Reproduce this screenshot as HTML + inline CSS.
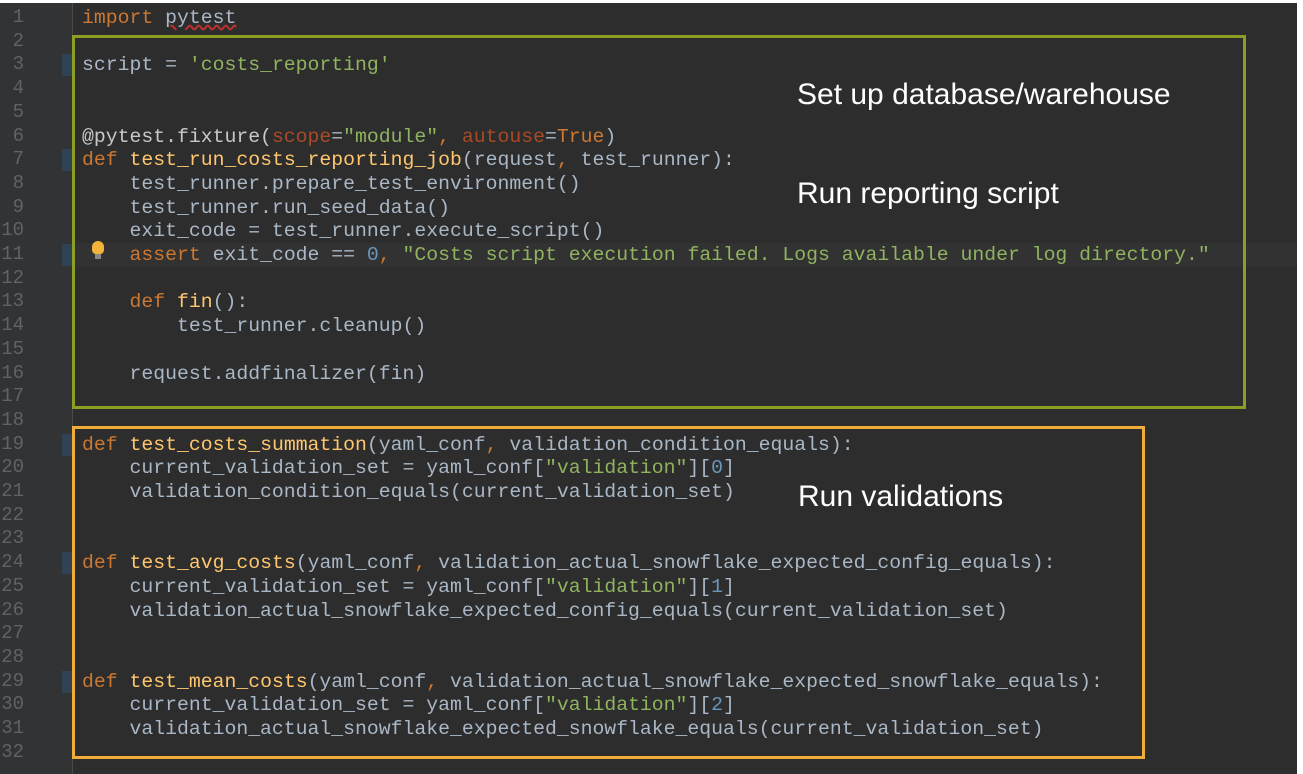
<!DOCTYPE html>
<html><head><meta charset="utf-8"><style>
html,body{margin:0;padding:0;width:1303px;height:774px;overflow:hidden;background:#fff}
#ed{position:absolute;left:0;top:3px;width:1297px;height:771px;background:#2d2d2d}
#gut{position:absolute;left:0;top:3px;width:72px;height:771px;background:#313335;border-right:1px solid #4a4a4a}
.ln{position:absolute;left:0;width:24px;text-align:right;font:19px "Liberation Mono",monospace;color:#606366}
.code{position:absolute;left:82px;white-space:pre;font:19.8px "Liberation Mono",monospace;color:#a9b7c6}
.k{color:#cc7832}.f{color:#ffc66d}.s{color:#8fb35f}.n{color:#6897bb}.p{color:#aa4926}.d{color:#c8c8c8}
.mk{position:absolute;left:62px;width:10px;height:22px;background:#2f4354}
.box{position:absolute;box-sizing:border-box}
.ann{position:absolute;font:30px "Liberation Sans",sans-serif;color:#fff;white-space:nowrap}
</style></head><body>
<div id="ed"></div><div id="gut"></div>
<div style="position:absolute;left:73px;top:243px;width:1224px;height:24px;background:#323232"></div>
<div class="mk" style="top:54px"></div>
<div class="mk" style="top:149px"></div>
<div class="mk" style="top:244px"></div>
<div class="mk" style="top:434px"></div>
<div class="mk" style="top:552px"></div>
<div class="mk" style="top:671px"></div>
<div class="ln" style="top:6px">1</div><div class="ln" style="top:29.7px">2</div><div class="ln" style="top:53.4px">3</div><div class="ln" style="top:77.1px">4</div><div class="ln" style="top:100.8px">5</div><div class="ln" style="top:124.5px">6</div><div class="ln" style="top:148.2px">7</div><div class="ln" style="top:171.9px">8</div><div class="ln" style="top:195.6px">9</div><div class="ln" style="top:219.3px">10</div><div class="ln" style="top:243px">11</div><div class="ln" style="top:266.7px">12</div><div class="ln" style="top:290.4px">13</div><div class="ln" style="top:314.1px">14</div><div class="ln" style="top:337.8px">15</div><div class="ln" style="top:361.5px">16</div><div class="ln" style="top:385.2px">17</div><div class="ln" style="top:408.9px">18</div><div class="ln" style="top:432.6px">19</div><div class="ln" style="top:456.3px">20</div><div class="ln" style="top:480px">21</div><div class="ln" style="top:503.7px">22</div><div class="ln" style="top:527.4px">23</div><div class="ln" style="top:551.1px">24</div><div class="ln" style="top:574.8px">25</div><div class="ln" style="top:598.5px">26</div><div class="ln" style="top:622.2px">27</div><div class="ln" style="top:645.9px">28</div><div class="ln" style="top:669.6px">29</div><div class="ln" style="top:693.3px">30</div><div class="ln" style="top:717px">31</div><div class="ln" style="top:740.7px">32</div>
<div class="code" style="top:7px;line-height:23.7px"><span class="k">import</span> <span style="text-decoration:underline wavy #c03030">pytest</span>

script = <span class="s">'costs_reporting'</span>


<span class="d">@pytest.fixture(</span><span class="p">scope</span>=<span class="s">"module"</span><span class="k">, </span><span class="p">autouse</span>=<span class="k">True</span>)
<span class="k">def</span> <span class="f">test_run_costs_reporting_job</span>(request<span class="k">,</span> test_runner):
    test_runner.prepare_test_environment()
    test_runner.run_seed_data()
    exit_code = test_runner.execute_script()
    <span class="k">assert</span> exit_code == <span class="n">0</span><span class="k">,</span> <span class="s">"Costs script execution failed. Logs available under log directory."</span>

    <span class="k">def</span> <span class="f">fin</span>():
        test_runner.cleanup()

    request.addfinalizer(fin)


<span class="k">def</span> <span class="f">test_costs_summation</span>(yaml_conf<span class="k">,</span> validation_condition_equals):
    current_validation_set = yaml_conf[<span class="s">"validation"</span>][<span class="n">0</span>]
    validation_condition_equals(current_validation_set)


<span class="k">def</span> <span class="f">test_avg_costs</span>(yaml_conf<span class="k">,</span> validation_actual_snowflake_expected_config_equals):
    current_validation_set = yaml_conf[<span class="s">"validation"</span>][<span class="n">1</span>]
    validation_actual_snowflake_expected_config_equals(current_validation_set)


<span class="k">def</span> <span class="f">test_mean_costs</span>(yaml_conf<span class="k">,</span> validation_actual_snowflake_expected_snowflake_equals):
    current_validation_set = yaml_conf[<span class="s">"validation"</span>][<span class="n">2</span>]
    validation_actual_snowflake_expected_snowflake_equals(current_validation_set)
</div>
<div style="position:absolute;left:92px;top:241px;width:12px;height:13px;border-radius:6px 6px 4px 4px;background:#f2b53a"></div>
<div style="position:absolute;left:95px;top:254px;width:6px;height:5px;background:#888"></div>
<div class="box" style="left:72px;top:35px;width:1174px;height:374px;border:3px solid #8d9e23"></div>
<div class="box" style="left:72px;top:426px;width:1073px;height:333px;border:3px solid #f0ad3a"></div>
<div class="ann" style="left:797px;top:78px">Set up database/warehouse</div>
<div class="ann" style="left:797px;top:177px">Run reporting script</div>
<div class="ann" style="left:798px;top:480px">Run validations</div>
</body></html>
